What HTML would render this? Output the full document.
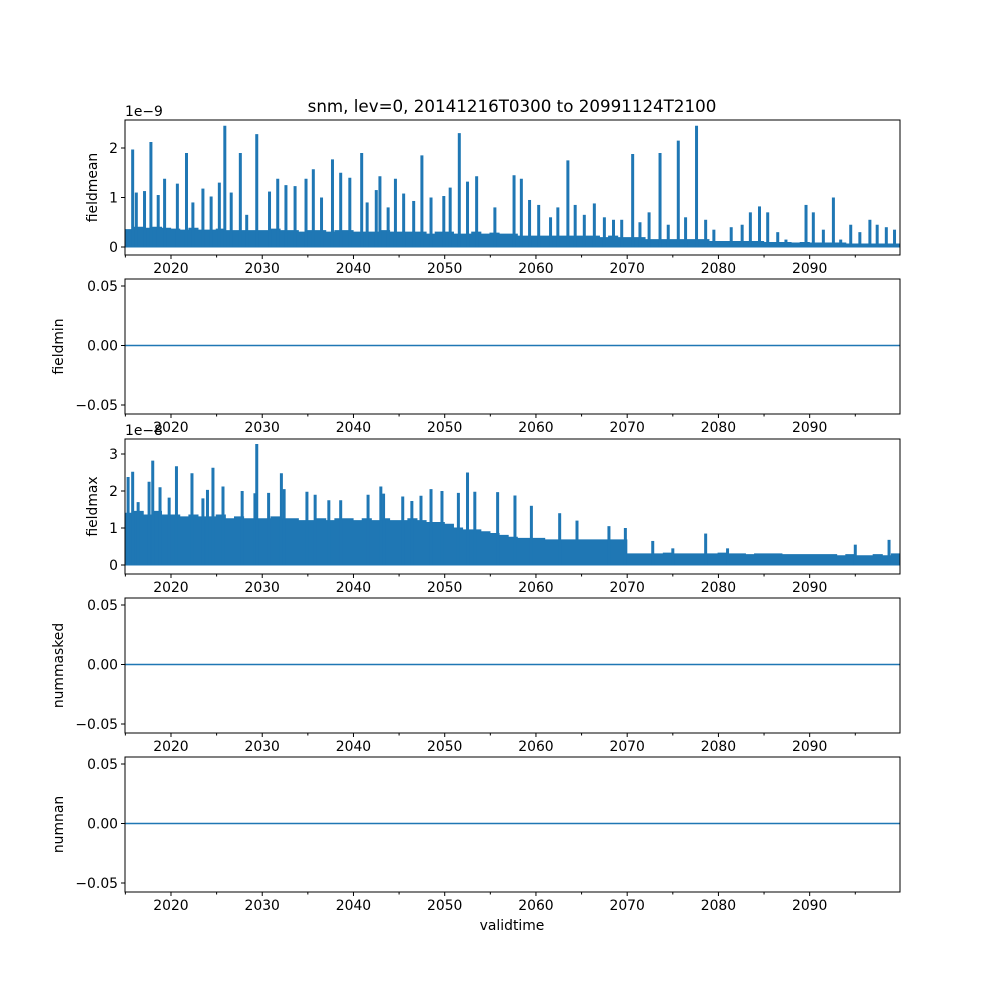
<!DOCTYPE html>
<html><head><meta charset="utf-8"><style>
body{margin:0;background:#fff}
svg text{font-family:"DejaVu Sans","Liberation Sans",sans-serif;font-size:13.9px;fill:#000}
svg text.title{font-size:16.7px}
</style></head><body>
<svg id="fig" width="1000" height="1000" xmlns="http://www.w3.org/2000/svg">
<rect width="1000" height="1000" fill="#fff"/>
</svg>
<script>
// ---- data ----
const majorYears=[2020,2030,2040,2050,2060,2070,2080,2090];
const minorYears=[2015,2025,2035,2045,2055,2065,2075,2085,2095];
const panelNames=["fieldmean","fieldmin","fieldmax","nummasked","numnan"];
const meanTicks=[0,1,2];
const maxTicks=[0,1,2,3];
const flatTicks=[0.05,0.00,-0.05];
const flatTickLabels=["0.05","0.00","\u22120.05"];
const meanEnvelope=[0.35,0.4,0.38,0.4,0.38,0.36,0.34,0.38,0.34,0.34,0.36,0.33,0.33,0.33,0.33,0.33,0.36,0.33,0.33,0.3,0.33,0.33,0.3,0.33,0.33,0.3,0.3,0.3,0.33,0.3,0.3,0.3,0.3,0.26,0.3,0.3,0.26,0.26,0.3,0.26,0.28,0.26,0.26,0.22,0.22,0.22,0.22,0.22,0.22,0.22,0.22,0.22,0.19,0.22,0.19,0.19,0.19,0.15,0.15,0.15,0.15,0.15,0.15,0.15,0.11,0.11,0.11,0.11,0.11,0.11,0.09,0.09,0.09,0.08,0.09,0.08,0.08,0.08,0.08,0.06,0.06,0.06,0.06,0.06,0.06];
const maxEnvelope=[1.4,1.45,1.35,1.45,1.35,1.35,1.3,1.35,1.3,1.3,1.35,1.25,1.3,1.25,1.25,1.25,1.3,1.25,1.25,1.2,1.2,1.25,1.2,1.25,1.25,1.2,1.25,1.2,1.25,1.2,1.2,1.25,1.2,1.15,1.15,1.1,1.0,0.95,0.95,0.9,0.85,0.8,0.75,0.72,0.72,0.72,0.68,0.68,0.68,0.68,0.68,0.68,0.68,0.68,0.68,0.3,0.3,0.3,0.3,0.32,0.3,0.3,0.3,0.3,0.3,0.32,0.3,0.3,0.28,0.3,0.3,0.3,0.28,0.28,0.28,0.28,0.28,0.28,0.25,0.28,0.25,0.25,0.28,0.25,0.3];
const meanSpikeT=[2015.8,2016.2,2017.1,2017.8,2018.6,2019.3,2020.7,2021.7,2022.4,2023.5,2024.4,2025.3,2025.9,2026.6,2027.6,2028.3,2029.4,2030.8,2031.7,2032.6,2033.6,2034.8,2035.6,2036.5,2037.7,2038.6,2039.6,2040.9,2041.5,2042.5,2042.9,2043.8,2044.6,2045.5,2046.6,2047.5,2048.5,2049.9,2050.6,2051.6,2052.5,2053.5,2055.5,2057.6,2058.4,2059.3,2060.3,2061.6,2062.4,2063.5,2064.3,2065.3,2066.4,2067.5,2068.5,2069.4,2070.6,2071.4,2072.4,2073.6,2074.5,2075.6,2076.4,2077.6,2078.6,2079.5,2081.4,2082.6,2083.5,2084.5,2085.4,2086.5,2087.4,2089.6,2090.4,2091.5,2092.6,2093.4,2094.5,2095.5,2096.6,2097.4,2098.4,2099.3];
const meanSpikeV=[1.97,1.1,1.13,2.12,1.05,1.38,1.28,1.9,0.9,1.18,1.02,1.3,2.45,1.1,1.9,0.65,2.28,1.12,1.38,1.25,1.23,1.38,1.57,1.0,1.77,1.5,1.4,1.9,0.9,1.15,1.43,0.8,1.38,1.08,0.93,1.85,1.0,1.03,1.2,2.3,1.32,1.43,0.8,1.45,1.38,0.95,0.85,0.6,0.8,1.75,0.85,0.65,0.88,0.6,0.55,0.55,1.88,0.5,0.7,1.9,0.45,2.15,0.6,2.45,0.55,0.35,0.4,0.45,0.7,0.82,0.7,0.3,0.15,0.85,0.7,0.35,1.0,0.15,0.45,0.3,0.55,0.45,0.4,0.35];
const maxSpikeT=[2015.3,2015.8,2016.4,2017.6,2018.0,2018.8,2019.8,2020.6,2022.3,2023.5,2024.0,2024.6,2025.7,2027.8,2029.2,2029.4,2030.7,2032.1,2032.4,2034.9,2035.8,2037.3,2038.6,2041.6,2043.0,2043.3,2045.4,2046.4,2047.4,2048.5,2049.7,2051.5,2052.5,2053.3,2055.8,2057.7,2059.5,2062.6,2064.5,2068.0,2069.8,2072.8,2075.0,2078.6,2081.0,2095.0,2098.7];
const maxSpikeV=[2.38,2.52,1.7,2.25,2.82,2.1,1.82,2.67,2.48,1.8,2.03,2.63,2.12,2.0,1.94,3.27,1.95,2.48,2.05,1.98,1.9,1.75,1.75,1.9,2.12,1.93,1.85,1.73,1.87,2.05,2.0,1.95,2.5,1.98,1.97,1.88,1.6,1.4,1.2,1.05,1.0,0.65,0.45,0.85,0.45,0.55,0.68];

// ---- layout ----
const NS="http://www.w3.org/2000/svg";
const svg=document.getElementById('fig');
const L=125,R=900,T0=2014.96,T1=2099.9;
const panels=[{top:120,bot:255},{top:279,bot:414},{top:439,bot:574},{top:598,bot:733},{top:757,bot:892}];
function xs(t){return L+(t-T0)*(R-L)/(T1-T0);}
function el(tag,attrs,parent){const e=document.createElementNS(NS,tag);for(const k in attrs)e.setAttribute(k,attrs[k]);(parent||svg).appendChild(e);return e;}
const C="#1f77b4";
const yMean=v=>247-v*49.5;
const yMax=v=>565-v*37;

panels.forEach((p,i)=>{
  const g=el('g',{});
  
  
  const mid=(p.top+p.bot)/2-1;
  const yFlat=v=>mid-v*1190;
  let ys, ticks, labels;
  if(i===0){ys=yMean;ticks=meanTicks;labels=meanTicks.map(String);}
  else if(i===2){ys=yMax;ticks=maxTicks;labels=maxTicks.map(String);}
  else {ys=yFlat;ticks=flatTicks;labels=flatTickLabels;}
  const cg=el('g',{},g);
  
  
  const clip=el('clipPath',{id:'c'+i},g);el('rect',{x:L,y:p.top,width:R-L,height:p.bot-p.top},clip);
  cg.setAttribute('clip-path','url(#c'+i+')');
  if(i===0||i===2){
    const env=i===0?meanEnvelope:maxEnvelope;
    let d='M'+L+','+ys(0);
    env.forEach((v,k)=>{const a=xs(2015+k-0.04),b=xs(2015+k+0.96);d+=' L'+a+','+ys(v)+' L'+b+','+ys(v);});
    d+=' L'+R+','+ys(0)+' Z';
    const area=el('path',{d:d,fill:C,stroke:C,'stroke-width':1},cg);
    
    
    const st=i===0?meanSpikeT:maxSpikeT, sv=i===0?meanSpikeV:maxSpikeV;
    st.forEach((t,k)=>{
      const s=el('line',{x1:xs(t),x2:xs(t),y1:ys(0),y2:ys(sv[k]),stroke:C,'stroke-width':3},cg);
      
      
    });
  } else {
    const ln=el('line',{x1:L,x2:R,y1:ys(0),y2:ys(0),stroke:C,'stroke-width':1.5},cg);
    
    
  }
  el('rect',{x:L,y:p.top,width:R-L,height:p.bot-p.top,fill:'none',stroke:'#000','stroke-width':1},g);
  majorYears.forEach(yr=>{
    const x=xs(yr);
    el('line',{x1:x,x2:x,y1:p.bot,y2:p.bot+4,stroke:'#000'},g);
    const t=el('text',{x:x,y:p.bot+18,'text-anchor':'middle'},g);t.textContent=yr;
    
    
  });
  minorYears.forEach(yr=>{const x=xs(yr);el('line',{x1:x,x2:x,y1:p.bot,y2:p.bot+2.5,stroke:'#000'},g);});
  ticks.forEach((v,k)=>{
    const y=ys(v);
    el('line',{x1:L-4,x2:L,y1:y,y2:y,stroke:'#000'},g);
    const t=el('text',{x:L-7,y:y+5,'text-anchor':'end'},g);t.textContent=labels[k];
    
    
  });
  const yl=el('text',{x:0,y:0,'text-anchor':'middle',transform:'translate('+(i===0||i===2?97:63)+','+((p.top+p.bot)/2)+') rotate(-90)'},g);
  yl.textContent=panelNames[i];
  
  
  if(i===0||i===2){
    const o=el('text',{x:L,y:p.top-4},g);o.textContent=i===0?'1e\u22129':'1e\u22128';
    
    
  }
});
const title=el('text',{x:512,y:112,'text-anchor':'middle','class':'title'});
title.textContent='snm, lev=0, 20141216T0300 to 20991124T2100';


const xl=el('text',{x:512,y:930,'text-anchor':'middle'});
xl.textContent='validtime';


</script>
</body></html>
